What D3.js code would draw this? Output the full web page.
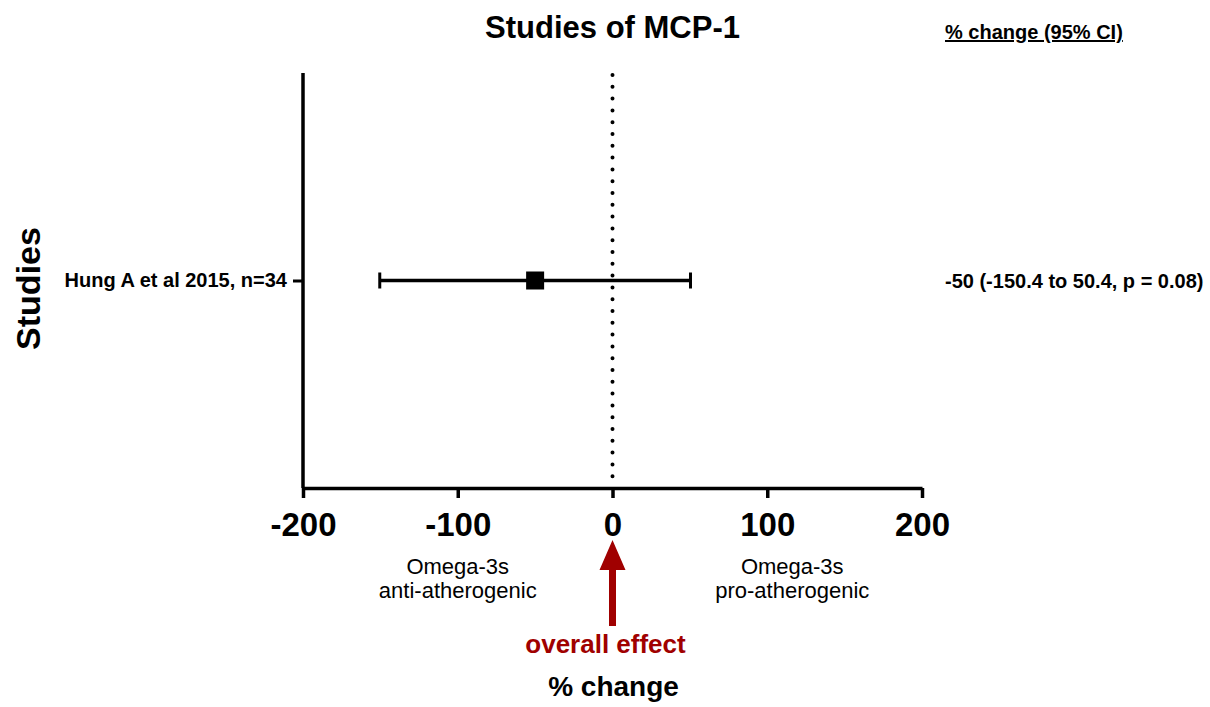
<!DOCTYPE html>
<html>
<head>
<meta charset="utf-8">
<script src="https://cdn.jsdelivr.net/npm/d3@7"></script>
<style>
  body { margin: 0; background: #fff; }
  text { font-family: Arial, "Liberation Sans", sans-serif; }
</style>
</head>
<body>
<svg width="1210" height="707"></svg>
<script>
// data
var studies = ["Hung A et al 2015, n=34"];
var estimates = [-50];
var lowerCI = [-150.4];
var upperCI = [50.4];
var summaries = ["-50 (-150.4 to 50.4, p = 0.08)"];
var xTicks = [-200, -100, 0, 100, 200];

var rows = studies.map(function(s, i) {
    return {study: s, est: estimates[i], lo: lowerCI[i], hi: upperCI[i], label: summaries[i]};
});

var svg = d3.select('svg');
var padding = {t: 73, l: 303, r: 288, b: 219};
var chartWidth = 1210 - padding.l - padding.r;
var chartHeight = 707 - padding.t - padding.b;

var chartG = svg.append('g')
    .attr('transform', 'translate(' + [padding.l, padding.t] + ')');

var xScale = d3.scaleLinear().domain([-200, 200]).range([0, chartWidth]);
var yScale = d3.scalePoint().domain(studies).range([0, chartHeight]).padding(0.5);

// dotted zero line
chartG.append('line')
    .attr('x1', xScale(0)).attr('x2', xScale(0))
    .attr('y1', 2).attr('y2', chartHeight)
    .attr('stroke', '#000').attr('stroke-width', 4)
    .attr('stroke-linecap', 'round')
    .attr('stroke-dasharray', '0,11.8');

// x axis
var xAxisG = chartG.append('g')
    .attr('transform', 'translate(' + [0, chartHeight] + ')')
    .call(d3.axisBottom(xScale).tickValues(xTicks).tickSize(10).tickSizeOuter(0).tickPadding(15)
        .tickFormat(function(d) { return String(d); }));
xAxisG.select('.domain').attr('stroke-width', 3.5);
xAxisG.selectAll('.tick line').attr('stroke-width', 3.5);
xAxisG.selectAll('.tick text')
    .style('font-size', '33px').style('font-weight', 'bold').attr('fill', '#000');

// y axis
var yAxisG = chartG.append('g')
    .call(d3.axisLeft(yScale).tickSize(10).tickSizeOuter(0).tickPadding(6));
yAxisG.select('.domain').attr('stroke-width', 3.5).attr('d', 'M0,0V' + chartHeight);
yAxisG.selectAll('.tick line').attr('stroke-width', 3);
yAxisG.selectAll('.tick text')
    .style('font-size', '20px').style('font-weight', 'bold').attr('fill', '#000');

// error bars
var rowG = chartG.selectAll('.row').data(rows).enter()
    .append('g').attr('class', 'row')
    .attr('transform', function(d) { return 'translate(' + [0, yScale(d.study)] + ')'; });

rowG.append('line')
    .attr('x1', function(d) { return xScale(d.lo); })
    .attr('x2', function(d) { return xScale(d.hi); })
    .attr('stroke', '#000').attr('stroke-width', 3.5);
rowG.selectAll('.cap').data(function(d) { return [d.lo, d.hi]; }).enter()
    .append('line').attr('class', 'cap')
    .attr('x1', function(v) { return xScale(v); })
    .attr('x2', function(v) { return xScale(v); })
    .attr('y1', -8).attr('y2', 8)
    .attr('stroke', '#000').attr('stroke-width', 3);
rowG.append('rect')
    .attr('x', function(d) { return xScale(d.est) - 9; })
    .attr('y', -9).attr('width', 18).attr('height', 18)
    .attr('fill', '#000');

// summary text on the right
svg.selectAll('.summary').data(rows).enter()
    .append('text').attr('class', 'summary')
    .attr('x', 945)
    .attr('y', function(d) { return padding.t + yScale(d.study) + 7; })
    .style('font-size', '20px').style('font-weight', 'bold')
    .text(function(d) { return d.label; });

// titles
svg.append('text')
    .attr('x', xScale(0) + padding.l).attr('y', 38)
    .attr('text-anchor', 'middle')
    .style('font-size', '31px').style('font-weight', 'bold')
    .text('Studies of MCP-1');

svg.append('text')
    .attr('x', 945).attr('y', 39)
    .style('font-size', '20px').style('font-weight', 'bold')
    .style('text-decoration', 'underline')
    .text('% change (95% CI)');

svg.append('text')
    .attr('transform', 'translate(40,' + (padding.t + chartHeight / 2 + 8) + ') rotate(-90)')
    .attr('text-anchor', 'middle')
    .style('font-size', '34px').style('font-weight', 'bold')
    .text('Studies');

svg.append('text')
    .attr('x', xScale(0) + padding.l + 1).attr('y', 696)
    .attr('text-anchor', 'middle')
    .style('font-size', '28px').style('font-weight', 'bold')
    .text('% change');

// direction labels
var dirG = svg.append('g').attr('transform', 'translate(' + [padding.l, 0] + ')');
[[-100, 'anti-atherogenic', 0], [100, 'pro-atherogenic', 25]].forEach(function(p) {
    var cx = xScale(p[0]) + p[2];
    var t = dirG.append('text')
        .attr('text-anchor', 'middle')
        .style('font-size', '22px');
    t.append('tspan').attr('x', cx).attr('y', 574).text('Omega-3s');
    t.append('tspan').attr('x', cx).attr('y', 598).text(p[1]);
});

// overall effect arrow
var ax = xScale(0) + padding.l;
svg.append('path')
    .attr('d', 'M' + ax + ',540 L' + (ax + 13) + ',570 L' + (ax + 3.5) + ',570 L' + (ax + 3.5) + ',626 L' + (ax - 3.5) + ',626 L' + (ax - 3.5) + ',570 L' + (ax - 13) + ',570 Z')
    .attr('fill', '#a00000');
svg.append('text')
    .attr('x', ax - 7).attr('y', 653)
    .attr('text-anchor', 'middle')
    .style('font-size', '26px').style('font-weight', 'bold')
    .attr('fill', '#a00000')
    .text('overall effect');
</script>
</body>
</html>
